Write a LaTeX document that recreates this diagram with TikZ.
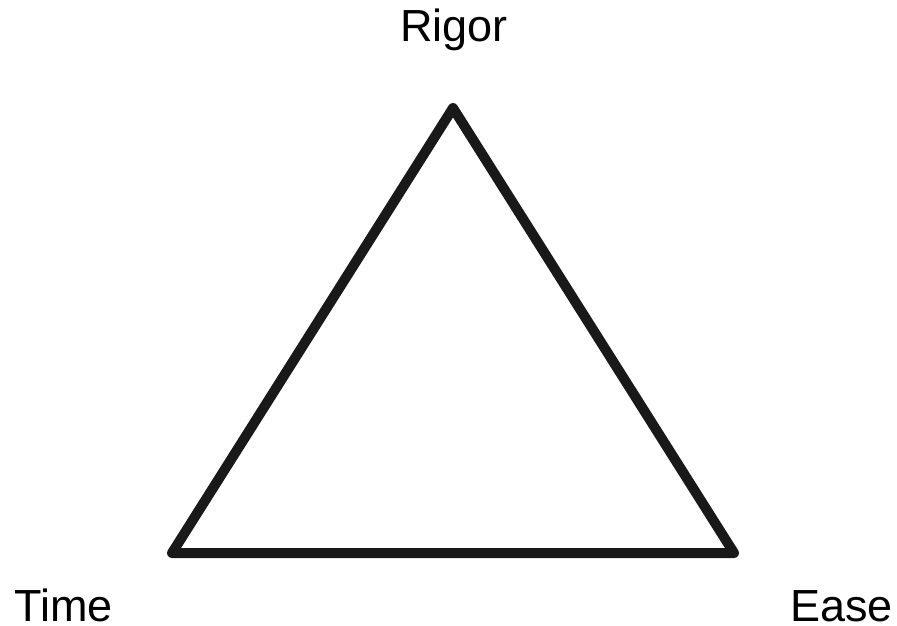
\documentclass[tikz,border=0pt]{standalone}
\usepackage{fontspec}
\setmainfont{Liberation Sans}
\usetikzlibrary{positioning}
\tikzset{
  side/.style={draw=black!90, line width=10pt, line join=round, line cap=round},
  corner/.style={font=\fontsize{45}{50}\selectfont, inner sep=0pt},
}
\begin{document}
\begin{tikzpicture}[x=1pt, y=-1pt]
\useasboundingbox (0,0) rectangle (897,625);

% ------------------------------------------------------------- vertices
\coordinate (top) at (453,108);
\coordinate (left) at (172,553);
\coordinate (right) at (734,553);

\draw[side] (top) -- (left) -- (right) -- cycle;

% ------------------------------------------------------------- labels
\node[corner, anchor=base] (rigor) at (454,41) {Rigor};
\node[corner, anchor=base west] (time) at (14,621) {Time};
\node[corner, anchor=base east] (ease) at (893,621) {Ease};

\end{tikzpicture}
\end{document}
